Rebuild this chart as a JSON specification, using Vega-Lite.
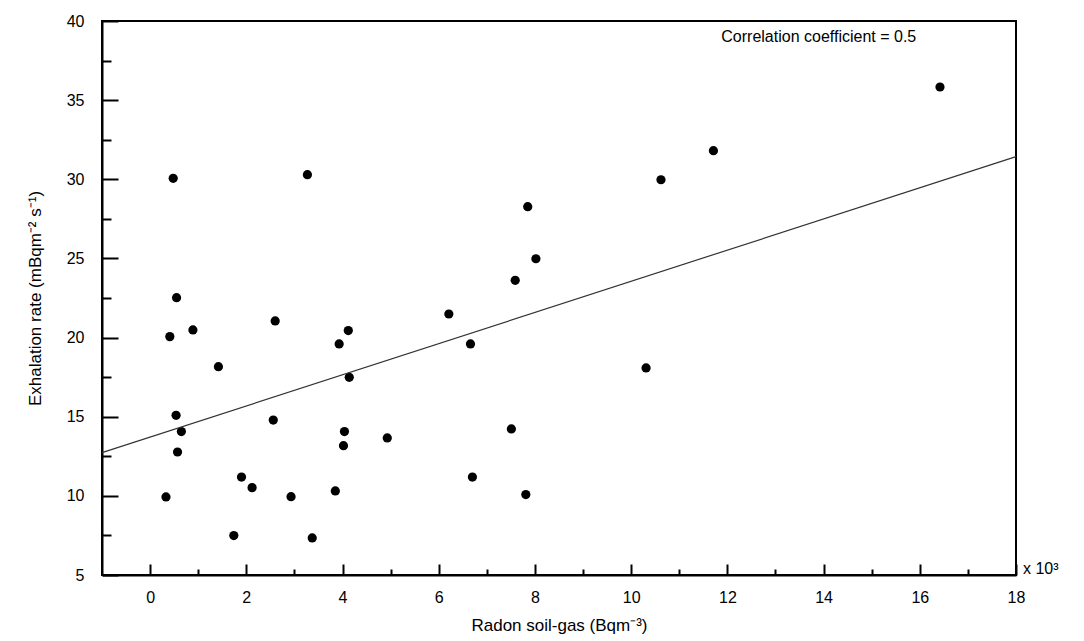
{
  "$schema": "https://vega.github.io/schema/vega-lite/v6.json",
  "width": 914,
  "height": 554,
  "autosize": "none",
  "padding": {"left": 102, "top": 21, "right": 68, "bottom": 66},
  "background": "white",
  "config": {
    "font": "Liberation Sans",
    "view": {"stroke": "black", "strokeWidth": 2},
    "axis": {"grid": false, "domainColor": "black", "tickColor": "black", "labelColor": "black", "titleColor": "black", "domainWidth": 2, "tickWidth": 2}
  },
  "datasets": {
    "pts": [
      {"x": 0.48, "y": 30.06}, {"x": 3.27, "y": 30.29}, {"x": 0.55, "y": 22.52}, {"x": 0.41, "y": 20.06},
      {"x": 0.89, "y": 20.48}, {"x": 2.60, "y": 21.05}, {"x": 4.12, "y": 20.44}, {"x": 3.93, "y": 19.60},
      {"x": 1.42, "y": 18.16}, {"x": 4.14, "y": 17.49}, {"x": 0.54, "y": 15.09}, {"x": 0.65, "y": 14.06},
      {"x": 2.56, "y": 14.79}, {"x": 4.04, "y": 14.06}, {"x": 4.93, "y": 13.66}, {"x": 4.02, "y": 13.17},
      {"x": 0.57, "y": 12.77}, {"x": 1.90, "y": 11.19}, {"x": 2.12, "y": 10.52}, {"x": 3.85, "y": 10.31},
      {"x": 0.33, "y": 9.93}, {"x": 2.93, "y": 9.95}, {"x": 1.74, "y": 7.49}, {"x": 3.37, "y": 7.34},
      {"x": 10.62, "y": 29.97}, {"x": 7.85, "y": 28.27}, {"x": 8.02, "y": 24.98}, {"x": 7.59, "y": 23.62},
      {"x": 6.21, "y": 21.49}, {"x": 6.66, "y": 19.60}, {"x": 10.31, "y": 18.08}, {"x": 7.51, "y": 14.23},
      {"x": 6.70, "y": 11.19}, {"x": 7.81, "y": 10.08}, {"x": 16.42, "y": 35.83}, {"x": 11.71, "y": 31.81}
    ],
    "fit": [{"x": -1, "y": 12.73}, {"x": 18, "y": 31.43}]
  },
  "layer": [
    {
      "data": {"name": "pts"},
      "mark": {"type": "point", "filled": true, "shape": "circle", "size": 85, "color": "black", "opacity": 1},
      "encoding": {
        "x": {"field": "x", "type": "quantitative",
          "scale": {"domain": [-1, 18], "nice": false, "zero": false},
          "axis": {"orient": "bottom", "values": [0, 2, 4, 6, 8, 10, 12, 14, 16, 18], "tickSize": -11, "labelPadding": 25, "labelFontSize": 16, "labelFlush": false,
            "title": "Radon soil-gas (Bqm⁻³)", "titleFontSize": 17, "titleFontWeight": "normal", "titlePadding": 12}},
        "y": {"field": "y", "type": "quantitative",
          "scale": {"domain": [5, 40], "nice": false, "zero": false},
          "axis": {"orient": "left", "values": [5, 10, 15, 20, 25, 30, 35, 40], "tickSize": -16, "labelPadding": 34, "labelFontSize": 16, "labelFlush": false,
            "title": "Exhalation rate (mBqm⁻² s⁻¹)", "titleFontSize": 17, "titleFontWeight": "normal", "titlePadding": 22}}
      }
    },
    {
      "data": {"name": "fit"},
      "mark": {"type": "line", "color": "#333333", "strokeWidth": 1.2},
      "encoding": {
        "x": {"field": "x", "type": "quantitative",
          "axis": {"orient": "bottom", "values": [1, 3, 5, 7, 9, 11, 13, 15, 17], "tickSize": -6, "labels": false, "domain": false, "title": null}},
        "y": {"field": "y", "type": "quantitative",
          "axis": {"orient": "left", "values": [7.5, 12.5, 17.5, 22.5, 27.5, 32.5, 37.5], "tickSize": -9, "labels": false, "domain": false, "title": null}}
      }
    },
    {
      "data": {"values": [{"label": "Correlation coefficient = 0.5"}]},
      "mark": {"type": "text", "fontSize": 16, "align": "center", "baseline": "middle", "color": "black"},
      "encoding": {
        "text": {"field": "label"},
        "x": {"datum": 13.9, "type": "quantitative", "axis": null},
        "y": {"datum": 39.0, "type": "quantitative", "axis": null}
      }
    },
    {
      "data": {"values": [{"label": "x 10³"}]},
      "mark": {"type": "text", "fontSize": 16, "align": "left", "baseline": "bottom", "dx": 7, "dy": 2, "color": "black"},
      "encoding": {
        "text": {"field": "label"},
        "x": {"datum": 18, "type": "quantitative", "axis": null},
        "y": {"datum": 5, "type": "quantitative", "axis": null}
      }
    }
  ],
  "resolve": {"axis": {"x": "independent", "y": "independent"}}
}
